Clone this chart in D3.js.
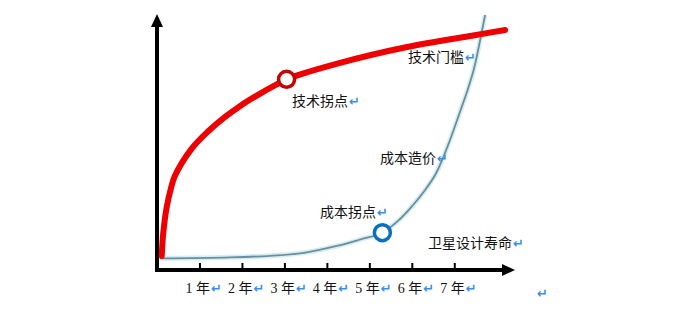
<!DOCTYPE html>
<html>
<head>
<meta charset="utf-8">
<script src="https://cdn.jsdelivr.net/npm/d3@7"></script>
<style>
  body { margin: 0; background: #fff; }
  svg text { font-family: "Liberation Serif", "Noto Sans CJK SC", serif; font-size: 14px; fill: #111; }
  .ret { fill: #3a8ee6; font-family: "DejaVu Sans", sans-serif; font-size: 13px; font-weight: bold; }
</style>
</head>
<body>
<div id="chart"></div>
<script>
// years on x, a relative level 0..100 on y
const techCurve = [
  [0.111, 5.5], [0.148, 14.5], [0.229, 24.6], [0.330, 32.0], [0.417, 36.6], [0.808, 47.2],
  [1.201, 54.1], [1.595, 59.7], [1.986, 64.4], [2.379, 68.4], [2.773, 72.1], [3.051, 74.5],
  [4.311, 80.9], [5.889, 87.1], [7.444, 91.6], [8.198, 93.75]
];
const costCurve = [
  [0.071, 4.57], [1.720, 4.96], [2.662, 5.55], [3.463, 6.72], [4.233, 9.38], [4.782, 11.91],
  [5.307, 14.57], [5.724, 19.92], [6.031, 25.39], [6.313, 31.25], [6.549, 37.11], [6.714, 42.97],
  [6.855, 48.83], [6.985, 54.69], [7.150, 62.50], [7.314, 70.31], [7.456, 78.13], [7.562, 85.94],
  [7.656, 93.75], [7.727, 99.61]
];
const years = [1, 2, 3, 4, 5, 6, 7];
const turnPoints = [
  { name: '技术拐点', t: 3.051, v: 74.5, color: '#c80000' },
  { name: '成本拐点', t: 5.307, v: 14.57, color: '#0a6fc2' }
];
const notes = [
  { text: '技术门槛', t: 5.91, v: 81.3 },
  { text: '技术拐点', t: 3.18, v: 64.1 },
  { text: '成本造价', t: 5.25, v: 41.8 },
  { text: '成本拐点', t: 3.84, v: 20.7 },
  { text: '卫星设计寿命', t: 6.38, v: 8.6 }
];

const width = 693;
const height = 311;

const svg = d3.select('#chart')
  .append('svg')
  .attr('width', width)
  .attr('height', height);

const xScale = d3.scaleLinear().domain([0, 8.43]).range([157, 515]);
const yScale = d3.scaleLinear().domain([0, 100]).range([270, 14]);

// axes with arrow heads
svg.append('line')
  .attr('x1', xScale(0)).attr('y1', yScale(0) + 2)
  .attr('x2', xScale(0)).attr('y2', yScale(100) + 10)
  .style('stroke', '#000').style('stroke-width', 4);
svg.append('path')
  .attr('d', `M${xScale(0) - 6},${yScale(100) + 13} L${xScale(0)},${yScale(100)} L${xScale(0) + 6},${yScale(100) + 13} Z`)
  .style('fill', '#000');

svg.append('line')
  .attr('x1', xScale(0) - 2).attr('y1', yScale(0))
  .attr('x2', xScale(8.43) - 10).attr('y2', yScale(0))
  .style('stroke', '#000').style('stroke-width', 4);
svg.append('path')
  .attr('d', `M${xScale(8.43) - 13},${yScale(0) - 6} L${xScale(8.43)},${yScale(0)} L${xScale(8.43) - 13},${yScale(0) + 6} Z`)
  .style('fill', '#000');

const xAxis = d3.axisBottom(xScale)
  .tickValues(years)
  .tickSize(-7)
  .tickFormat('');
const axisG = svg.append('g')
  .attr('transform', `translate(0, ${yScale(0)})`)
  .call(xAxis);
axisG.select('.domain').remove();
axisG.selectAll('.tick line').style('stroke', '#000').style('stroke-width', 2);

// year labels
const yl = svg.append('g').selectAll('text')
  .data(years)
  .join('text')
  .attr('x', d => xScale(d) - 14)
  .attr('y', 293);
yl.append('tspan').text(d => d + ' 年');
yl.append('tspan').attr('class', 'ret').attr('dx', 1).text('↵');

svg.append('text').attr('class', 'ret').attr('x', 537).attr('y', 298).text('↵');

// curves
const line = d3.line()
  .x(d => xScale(d[0]))
  .y(d => yScale(d[1]))
  .curve(d3.curveCatmullRom.alpha(0.5));

svg.append('path')
  .datum(costCurve)
  .attr('d', line)
  .style('fill', 'none')
  .style('stroke', '#d6eef2')
  .style('stroke-width', 5);
svg.append('path')
  .datum(costCurve)
  .attr('d', line)
  .style('fill', 'none')
  .style('stroke', '#6b8e9c')
  .style('stroke-width', 1.8);

svg.append('path')
  .datum(techCurve)
  .attr('d', line)
  .style('fill', 'none')
  .style('stroke', '#ee0000')
  .style('stroke-width', 6)
  .style('stroke-linecap', 'round');

svg.append('g').selectAll('circle')
  .data(turnPoints)
  .join('circle')
  .attr('cx', d => xScale(d.t))
  .attr('cy', d => yScale(d.v))
  .attr('r', 8)
  .style('fill', '#fff')
  .style('stroke', d => d.color)
  .style('stroke-width', 3.5);

// annotations
const nt = svg.append('g').selectAll('text')
  .data(notes)
  .join('text')
  .attr('x', d => xScale(d.t))
  .attr('y', d => yScale(d.v));
nt.append('tspan').text(d => d.text);
nt.append('tspan').attr('class', 'ret').attr('dx', 1).text('↵');
</script>
</body>
</html>
